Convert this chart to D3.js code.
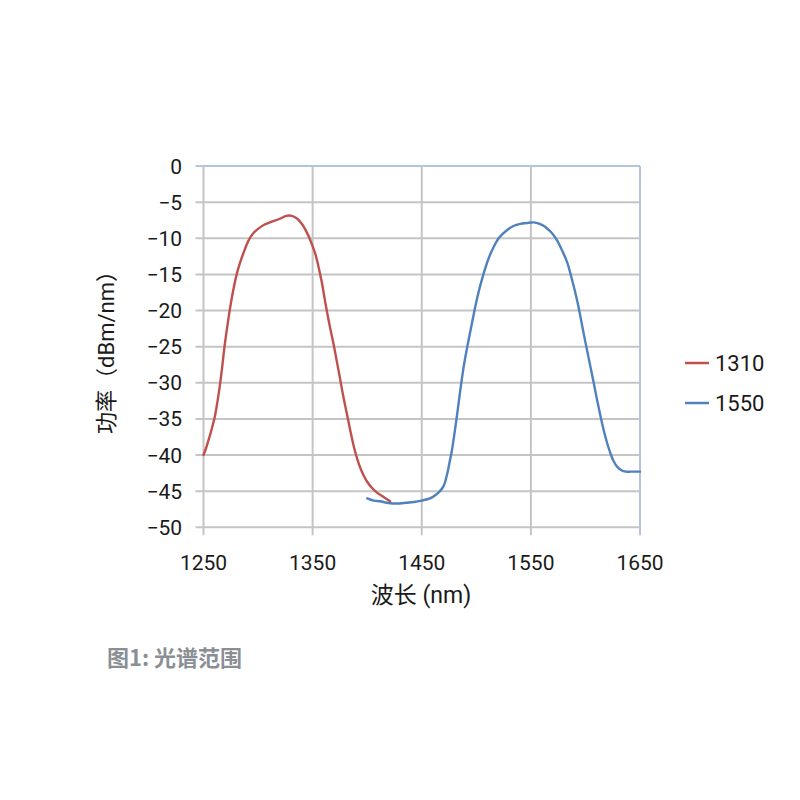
<!DOCTYPE html>
<html><head><meta charset="utf-8">
<script src="https://cdn.jsdelivr.net/npm/d3@7"></script>
<style>body{margin:0;background:#fff}svg{display:block}</style>
</head><body>
<script>
const xTicks = [1250, 1350, 1450, 1550, 1650];
const yTicks = [0, -5, -10, -15, -20, -25, -30, -35, -40, -45, -50];
const seriesNames = ["1310", "1550"];
const seriesColors = ["#c0504d", "#4f81bd"];
const red1310 = [
  [1250,-40.0],[1252,-39.2],[1254.5,-38.0],[1257.5,-36.4],[1260.5,-34.6],[1263,-32.4],[1265.5,-29.8],
  [1267.3,-27.6],[1269,-25.3],[1272.5,-21.5],[1276,-18.2],[1280.4,-15.0],[1283,-13.6],[1286.5,-12.1],
  [1291,-10.4],[1295,-9.4],[1300,-8.7],[1306,-8.1],[1312.6,-7.7],[1320,-7.3],[1326,-6.9],[1331,-6.9],
  [1336,-7.3],[1341,-8.2],[1346,-9.6],[1349,-10.7],[1352.3,-12.1],[1355.5,-14.0],[1358.4,-16.1],
  [1362,-19.2],[1365.5,-22.0],[1369,-24.5],[1372,-26.9],[1375,-29.3],[1378,-31.8],[1381.4,-34.3],
  [1384.5,-36.6],[1387.4,-38.6],[1391,-40.6],[1394,-41.9],[1397,-42.9],[1400,-43.7],[1404,-44.5],
  [1409,-45.2],[1415,-45.8],[1421,-46.4]
];
const blue1550 = [
  [1400,-46.0],[1406,-46.3],[1412,-46.4],[1418,-46.6],[1424,-46.7],[1430,-46.7],[1436,-46.6],
  [1442.5,-46.5],[1450,-46.3],[1457.6,-46.0],[1462,-45.6],[1466,-45.1],[1470,-44.3],[1473,-42.8],
  [1475.5,-41.0],[1477.7,-39.3],[1480,-37.0],[1482.3,-34.5],[1485,-31.4],[1488.4,-27.8],[1491.5,-25.2],
  [1494.5,-22.9],[1499,-19.5],[1502.5,-17.2],[1506.7,-14.9],[1511,-12.9],[1515.9,-11.2],[1521,-9.9],
  [1528,-8.9],[1534,-8.3],[1540.4,-8.0],[1546,-7.9],[1552.6,-7.8],[1558,-8.0],[1562,-8.3],[1566,-8.8],
  [1570,-9.4],[1574,-10.3],[1578,-11.5],[1583.2,-13.3],[1587.5,-15.6],[1592.4,-18.6],[1595.5,-20.9],
  [1598.4,-23.2],[1601.5,-25.5],[1604.6,-27.8],[1607.7,-30.1],[1610.7,-32.4],[1613.8,-34.6],
  [1616.8,-36.6],[1620,-38.4],[1623,-39.8],[1626,-40.9],[1629,-41.6],[1633,-42.1],[1637,-42.3],
  [1641,-42.3],[1645,-42.3],[1650,-42.3]
];
const seriesData = [red1310, blue1550];

const W = 800, H = 800;
const svg = d3.select("body").append("svg").attr("width", W).attr("height", H);
const font = "Roboto, 'Noto Sans CJK SC', sans-serif";
const x = d3.scaleLinear().domain([1250, 1650]).range([203.5, 640]);
const y = d3.scaleLinear().domain([-50, 0]).range([527.3, 166]);

const grid = svg.append("g");
grid.selectAll("line.h").data(yTicks).join("line")
  .attr("x1", x(1250) - 8).attr("x2", x(1650))
  .attr("y1", d => y(d)).attr("y2", d => y(d))
  .attr("stroke", d => d === 0 ? "#b4c4dc" : "#c4c4c4").attr("stroke-width", 2);
grid.selectAll("line.v").data(xTicks).join("line")
  .attr("x1", d => x(d)).attr("x2", d => x(d))
  .attr("y1", y(0)).attr("y2", y(-50) + 8)
  .attr("stroke", d => d === 1650 ? "#b4c4dc" : "#c4c4c4").attr("stroke-width", 2);

svg.append("g").selectAll("text").data(yTicks).join("text")
  .attr("x", 182).attr("y", d => y(d)).attr("dy", "0.36em")
  .attr("text-anchor", "end").attr("font-family", font).attr("font-size", 21).attr("fill", "#1a1a1a")
  .text(d => d3.format("")(d));
svg.append("g").selectAll("text").data(xTicks).join("text")
  .attr("x", d => x(d)).attr("y", 570)
  .attr("text-anchor", "middle").attr("font-family", font).attr("font-size", 21).attr("fill", "#1a1a1a")
  .text(d => d);

svg.append("text").attr("x", 421).attr("y", 603).attr("text-anchor", "middle")
  .attr("font-family", font).attr("font-size", 23).attr("fill", "#1a1a1a").text("波长 (nm)");
svg.append("text").attr("transform", "translate(114,347) rotate(-90)").attr("text-anchor", "middle")
  .attr("font-family", font).attr("font-size", 22).attr("fill", "#1a1a1a").text("功率（dBm/nm）");

const line = d3.line().x(d => x(d[0])).y(d => y(d[1])).curve(d3.curveCatmullRom.alpha(0.5));
svg.append("g").selectAll("path").data(seriesData).join("path")
  .attr("d", line).attr("fill", "none")
  .attr("stroke", (d, i) => seriesColors[i]).attr("stroke-width", 2.4)
  .attr("stroke-linejoin", "round").attr("stroke-linecap", "round");

const lg = svg.append("g").selectAll("g").data(seriesNames).join("g")
  .attr("transform", (d, i) => `translate(685,${363 + i * 40})`);
lg.append("line").attr("x1", 0).attr("x2", 24).attr("y1", 0).attr("y2", 0)
  .attr("stroke", (d, i) => seriesColors[i]).attr("stroke-width", 2.5);
lg.append("text").attr("x", 30).attr("y", 0).attr("dy", "0.36em")
  .attr("font-family", font).attr("font-size", 22).attr("fill", "#1a1a1a").text(d => d);

svg.append("text").attr("x", 107).attr("y", 666)
  .attr("font-family", "'Noto Sans CJK SC', sans-serif").attr("font-size", 22).attr("font-weight", "bold")
  .attr("fill", "#8a8f96").text("图1: 光谱范围");
</script>
</body></html>
